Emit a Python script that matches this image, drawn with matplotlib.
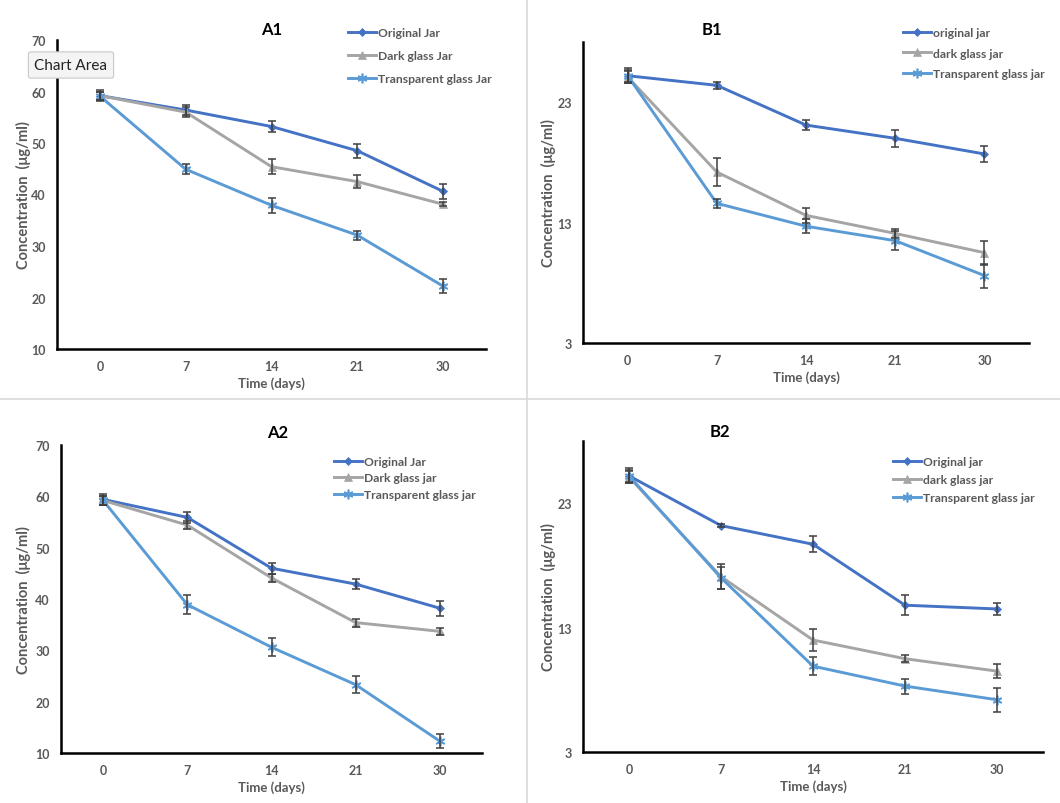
import matplotlib
matplotlib.use("Agg")
import matplotlib.pyplot as plt
from matplotlib.lines import Line2D

plt.rcParams['font.family'] = ['Lato', 'DejaVu Sans']

# time points (categorical on the x axis)
days = ['0', '7', '14', '21', '30']

# A1
a1_orig = [59.2, 56.4, 53.2, 48.5, 40.6]
a1_orig_err = [1.0, 1.0, 1.0, 1.4, 1.4]
a1_dark = [59.2, 56.0, 45.4, 42.5, 38.1]
a1_dark_err = [0.8, 0.9, 1.4, 1.3, 0.4]
a1_trans = [59.1, 44.9, 37.9, 32.1, 22.2]
a1_trans_err = [0.8, 1.0, 1.5, 0.9, 1.4]

# B1
b1_orig = [25.2, 24.4, 21.1, 20.0, 18.7]
b1_orig_err = [0.6, 0.3, 0.4, 0.7, 0.7]
b1_dark = [25.1, 17.2, 13.6, 12.1, 10.5]
b1_dark_err = [0.5, 1.2, 0.6, 0.4, 1.0]
b1_trans = [25.2, 14.6, 12.7, 11.5, 8.6]
b1_trans_err = [0.5, 0.4, 0.6, 0.8, 1.0]

# A2
a2_orig = [59.4, 55.9, 46.0, 42.9, 38.2]
a2_orig_err = [1.0, 1.1, 1.1, 1.0, 1.5]
a2_dark = [59.2, 54.4, 44.1, 35.4, 33.7]
a2_dark_err = [0.8, 0.8, 0.8, 0.8, 0.7]
a2_trans = [59.2, 38.9, 30.6, 23.3, 12.3]
a2_trans_err = [0.8, 1.8, 1.8, 1.7, 1.4]

# B2
b2_orig = [25.2, 21.2, 19.7, 14.8, 14.5]
b2_orig_err = [0.6, 0.15, 0.65, 0.8, 0.45]
b2_dark = [25.1, 17.1, 12.0, 10.5, 9.5]
b2_dark_err = [0.5, 1.0, 0.9, 0.3, 0.55]
b2_trans = [25.2, 17.0, 9.9, 8.3, 7.2]
b2_trans_err = [0.5, 0.9, 0.7, 0.6, 0.95]

blue = '#4472C4'
grey = '#A5A5A5'
light = '#5B9BD5'
txt = '#595959'
star = (6, 2, 0)


def draw_panel(rect, title, title_xy, series, ylim, yticks, legend_xy, spacing, ypad):
    ax = fig.add_axes(rect)
    x = range(len(days))
    styles = [(blue, 'D', 4.5), (grey, '^', 6), (light, star, 7)]
    for (vals, err, label), (c, m, ms) in zip(series, styles):
        ax.errorbar(x, vals, yerr=err, fmt='none', ecolor='#3F3F3F',
                    elinewidth=1.1, capsize=2.8, capthick=1.1, zorder=3)
        ax.plot(x, vals, color=c, marker=m, markersize=ms, lw=2.1,
                mec=c, mew=1.2 if m == star else 0.5, label=label, zorder=2)
    ax.set_xlim(-0.5, len(days) - 0.5)
    ax.set_ylim(*ylim)
    ax.set_yticks(yticks)
    ax.set_xticks(list(x))
    ax.set_xticklabels(days)
    for s in ['top', 'right']:
        ax.spines[s].set_visible(False)
    for s in ['left', 'bottom']:
        ax.spines[s].set_linewidth(1.8)
        ax.spines[s].set_color('black')
    ax.tick_params(length=0, labelsize=9, colors=txt, pad=8)
    for lab in ax.get_xticklabels() + ax.get_yticklabels():
        lab.set_fontweight('bold')
    ax.set_xlabel('Time (days)', fontsize=9.5, fontweight='bold', color=txt, labelpad=3)
    ax.set_ylabel('Concentration  (μg/ml)', fontsize=10.5, fontweight='bold',
                  color=txt, labelpad=ypad)
    fig.text(title_xy[0], title_xy[1], title, fontsize=12, fontweight='bold',
             ha='center', va='center')
    handles = [Line2D([], [], color=c, marker=m, markersize=ms, lw=2.1, mec=c,
                      mew=1.2 if m == star else 0.5) for c, m, ms in styles]
    leg = ax.legend(handles, [s[2] for s in series], loc='upper left',
                    bbox_to_anchor=legend_xy, bbox_transform=fig.transFigure,
                    frameon=False, fontsize=8.7, handlelength=2.3,
                    handletextpad=0.15, labelspacing=spacing,
                    borderpad=0, borderaxespad=0)
    for t in leg.get_texts():
        t.set_color(txt)
        t.set_fontweight('bold')
    return ax


W, H = 1060, 804
fig = plt.figure(figsize=(W / 100, H / 100), dpi=100)


def r(l, t, rr, b):
    return [l / W, 1 - b / H, (rr - l) / W, (b - t) / H]


draw_panel(r(57, 41, 486, 350), 'A1', (272 / W, 1 - 30 / H),
           [(a1_orig, a1_orig_err, 'Original Jar'),
            (a1_dark, a1_dark_err, 'Dark glass Jar'),
            (a1_trans, a1_trans_err, 'Transparent glass Jar')],
           (10, 70), range(10, 71, 10), (348 / W, 1 - 28 / H), 1.0, 0)

draw_panel(r(583, 43, 1029, 344), 'B1', (712 / W, 1 - 30 / H),
           [(b1_orig, b1_orig_err, 'original jar'),
            (b1_dark, b1_dark_err, 'dark glass jar'),
            (b1_trans, b1_trans_err, 'Transparent glass jar')],
           (3, 28), [3, 13, 23], (903 / W, 1 - 28 / H), 0.8, 1)

draw_panel(r(61, 446, 482, 754), 'A2', (278 / W, 1 - 433 / H),
           [(a2_orig, a2_orig_err, 'Original Jar'),
            (a2_dark, a2_dark_err, 'Dark glass jar'),
            (a2_trans, a2_trans_err, 'Transparent glass jar')],
           (10, 70), range(10, 71, 10), (334 / W, 1 - 457 / H), 0.45, 3)

draw_panel(r(583, 442, 1043, 753), 'B2', (720 / W, 1 - 432 / H),
           [(b2_orig, b2_orig_err, 'Original jar'),
            (b2_dark, b2_dark_err, 'dark glass jar'),
            (b2_trans, b2_trans_err, 'Transparent glass jar')],
           (3, 28), [3, 13, 23], (893 / W, 1 - 457 / H), 0.6, 1)

# panel separators
fig.add_artist(Line2D([527 / W, 527 / W], [0, 1], color='#D9D9D9', lw=1.2))
fig.add_artist(Line2D([0, 1], [1 - 400 / H, 1 - 400 / H], color='#D9D9D9', lw=1.2))

# the "Chart Area" tooltip seen in the screenshot
fig.text(71 / W, 1 - 66 / H, 'Chart Area', fontsize=11, ha='center', va='center',
         color='#222222',
         bbox=dict(boxstyle='round,pad=0.4,rounding_size=0.15', fc='#F4F4F4',
                   ec='#C8C8C8', lw=0.8))

fig.savefig('out.png', dpi=100)
